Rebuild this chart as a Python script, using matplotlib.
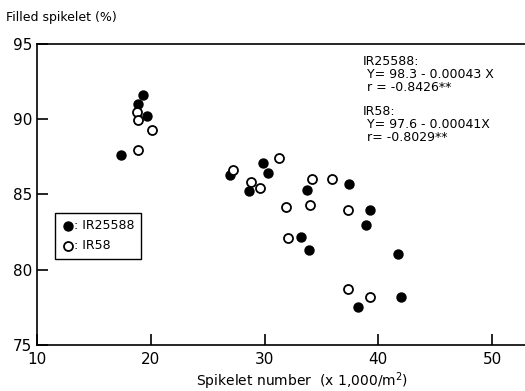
import matplotlib

matplotlib.use('Agg')

import matplotlib.pyplot as plt

# IR25588 (filled circles)
ir25588_x = [17.4, 18.9, 19.3, 19.7, 27.0, 28.6, 29.9, 30.35, 33.7, 37.4,
             39.3, 38.9, 33.25, 33.9, 38.2, 41.75, 42.0]
ir25588_y = [87.6, 91.0, 91.6, 90.2, 86.3, 85.2, 87.1, 86.4, 85.3, 85.7,
             84.0, 83.0, 82.2, 81.3, 77.5, 81.05, 78.2]

# IR58 (open circles)
ir58_x = [18.8, 18.9, 20.1, 18.9, 27.2, 31.3, 28.8, 29.6, 34.2, 35.9,
          31.9, 34.0, 37.3, 32.1, 37.3, 39.3]
ir58_y = [90.5, 89.95, 89.3, 87.96, 86.6, 87.4, 85.8, 85.4, 86.0, 86.0,
          84.2, 84.3, 84.0, 82.1, 78.7, 78.2]

x_ticks = [10, 20, 30, 40, 50]
y_ticks = [75, 80, 85, 90, 95]

plt.rcParams['font.family'] = ['DejaVu Sans']

fig = plt.figure(figsize=(5.25, 3.91), dpi=100)
ax = fig.add_axes([0.0705, 0.1176, 0.9295, 0.77])

ax.scatter(ir25588_x, ir25588_y, s=42, c='black', edgecolors='black',
           linewidths=1.0, zorder=3, label=': IR25588')
ax.scatter(ir58_x, ir58_y, s=42, facecolors='white', edgecolors='black',
           linewidths=1.3, zorder=3, label=': IR58')

ax.set_xlim(10, 52.9)
ax.set_ylim(75, 95)
ax.set_xticks(x_ticks)
ax.set_yticks(y_ticks)
ax.tick_params(direction='in', length=8, width=1.2, labelsize=11)
ax.tick_params(axis='x', pad=5)
ax.spines['right'].set_visible(False)
for side in ['left', 'bottom', 'top']:
    ax.spines[side].set_linewidth(1.2)

leg = ax.legend(loc='upper left', bbox_to_anchor=(0.037, 0.44),
                borderaxespad=0, fontsize=9, handletextpad=0.0,
                handlelength=1.0, borderpad=0.5, labelspacing=0.6,
                fancybox=False, edgecolor='black', framealpha=1)
leg.get_frame().set_linewidth(1.0)

# regression equations, one block per cultivar
ax.text(0.668, 0.963, 'IR25588:\n Y= 98.3 - 0.00043 X\n r = -0.8426**',
        transform=ax.transAxes, fontsize=9, va='top', ha='left',
        linespacing=1.0)
ax.text(0.668, 0.797, 'IR58:\n Y= 97.6 - 0.00041X\n r= -0.8029**',
        transform=ax.transAxes, fontsize=9, va='top', ha='left',
        linespacing=1.0)

fig.text(0.012, 0.955, 'Filled spikelet (%)', fontsize=9, va='center')
fig.text(0.575, 0.025, 'Spikelet number  (x 1,000/m$^2$)', fontsize=10,
         ha='center', va='center')

fig.savefig('out.png', dpi=100)
